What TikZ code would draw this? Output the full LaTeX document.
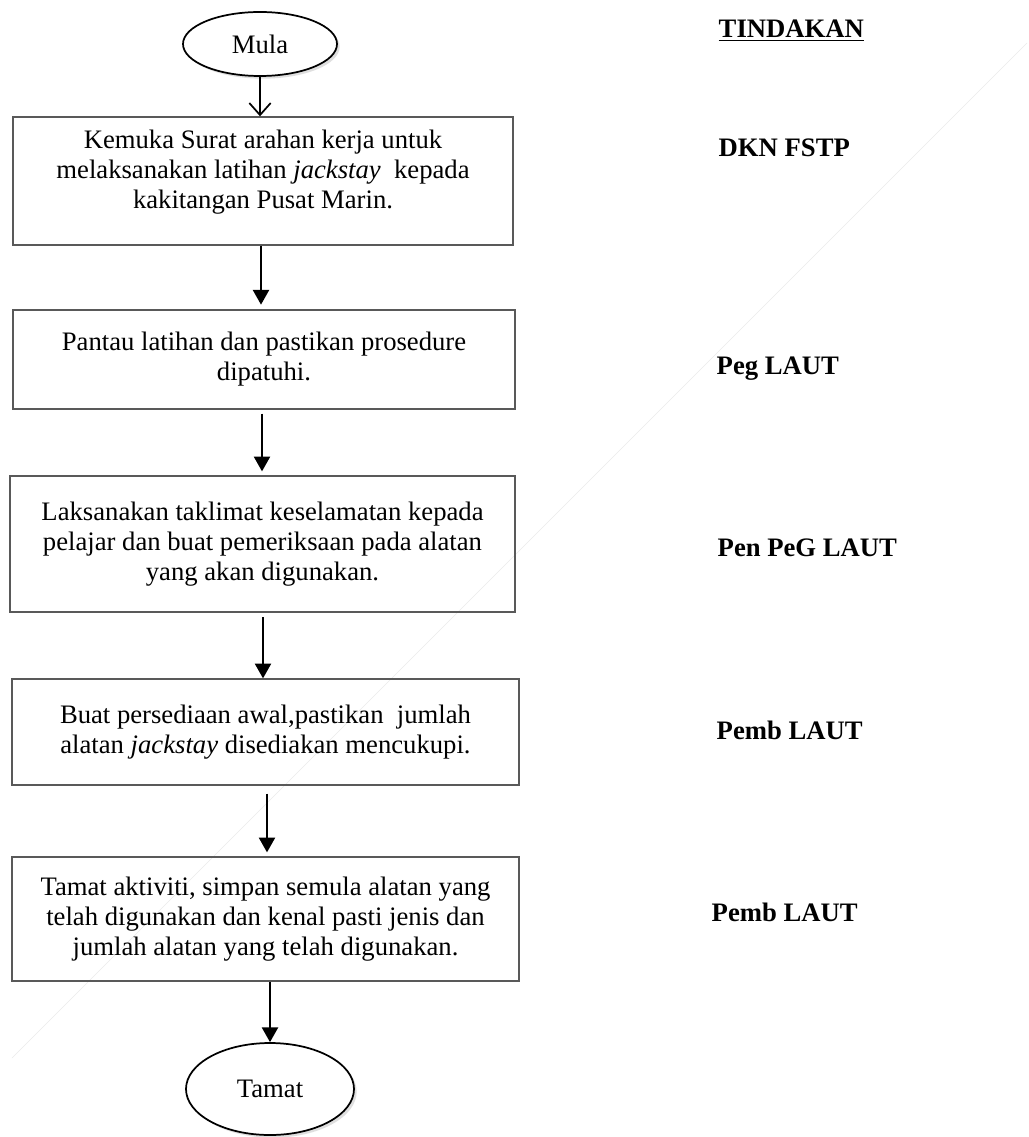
\documentclass[tikz,border=0pt]{standalone}
\usepackage{fontspec}
\setmainfont{Liberation Serif}
\usetikzlibrary{arrows.meta,shapes.geometric,shadows}
\begin{document}
\begin{tikzpicture}[x=0.75pt,y=-0.75pt,
  every node/.style={font=\fontsize{20}{22.5}\selectfont},
  stepbox/.style={draw=black!65, line width=1pt, rectangle, align=center, inner sep=0pt},
  term/.style={draw=black, line width=1.3pt, ellipse, inner sep=0pt, fill=white,
     drop shadow={opacity=0.25, shadow xshift=2pt, shadow yshift=-2pt}},
  arr/.style={line width=1.5pt, -{Triangle[length=11pt,width=12pt]}},
  openarr/.style={line width=1.3pt, -{Straight Barb[length=9pt,width=16pt]}},
  who/.style={anchor=base west, font=\fontsize{20}{22.5}\selectfont\bfseries}]
\useasboundingbox (0,0) rectangle (1028,1137);
\fill[white] (0,0) rectangle (1028,1137);
% faint scan line
\draw[black!8, line width=0.5pt] (1027,43) -- (12,1058);

\node[term, minimum width=115.5pt, minimum height=48pt] (mula) at (260,44) {Mula};
\node[stepbox, minimum width=375pt, minimum height=96pt] (b1) at (263,181)
  {Kemuka Surat arahan kerja untuk\\ melaksanakan latihan \textit{jackstay}\ \ kepada\\ kakitangan Pusat Marin.\rule[-18pt]{0pt}{18pt}};
\node[stepbox, minimum width=376.5pt, minimum height=74.25pt] (b2) at (264,359.5)
  {Pantau latihan dan pastikan prosedure\\ dipatuhi.};
\node[stepbox, minimum width=378.75pt, minimum height=102pt] (b3) at (262.5,544)
  {Laksanakan taklimat keselamatan kepada\\ pelajar dan buat pemeriksaan pada alatan\\ yang akan digunakan.};
\node[stepbox, minimum width=380.25pt, minimum height=79.5pt] (b4) at (265.5,732)
  {Buat persediaan awal,pastikan\ \ jumlah\\ alatan \textit{jackstay} disediakan mencukupi.};
\node[stepbox, minimum width=380.25pt, minimum height=93pt] (b5) at (265.5,919)
  {Tamat aktiviti, simpan semula alatan yang\\ telah digunakan dan kenal pasti jenis dan\\ jumlah alatan yang telah digunakan.};
\node[term, minimum width=126pt, minimum height=69pt] (tamat) at (270,1089) {Tamat};

% arrow guides
\coordinate (x2) at (261,0);
\coordinate (x3) at (262,0);
\coordinate (x4) at (263,0);
\coordinate (x5) at (267,0);
\coordinate (x6) at (270,0);

\draw[openarr] (mula.south) -- (mula.south |- b1.north);
\draw[arr, shorten >=3.5pt] (b1.south -| x2) -- (b2.north -| x2);
\draw[arr, shorten <=3pt, shorten >=3pt] (b2.south -| x3) -- (b3.north -| x3);
\draw[arr, shorten <=3.5pt] (b3.south -| x4) -- (b4.north -| x4);
\draw[arr, shorten <=6pt, shorten >=3pt] (b4.south -| x5) -- (b5.north -| x5);
\draw[arr] (b5.south -| x6) -- (tamat.north);

% action labels
\node[who] (hdr) at (714,38) {\underline{TINDAKAN}};
\node[who] (w1) at (714,157) {DKN FSTP};
\node[who] (w2) at (712,374) {Peg LAUT};
\node[who] (w3) at (713,556) {Pen PeG LAUT};
\node[who] (w4) at (712,739) {Pemb LAUT};
\node[who] (w5) at (707,921) {Pemb LAUT};
\end{tikzpicture}
\end{document}
